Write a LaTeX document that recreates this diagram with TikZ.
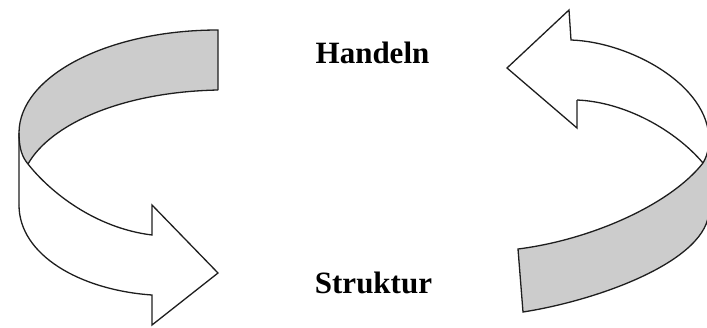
\documentclass[tikz,border=0pt]{standalone}
\usepackage{fontspec}
\setmainfont{Liberation Serif}
\begin{document}
\begin{tikzpicture}[x=1pt,y=-1pt,
  ribbon/.style={draw={rgb,255:red,30;green,30;blue,30},line width=1.3pt,line join=miter},
  shade/.style={fill={rgb,255:red,204;green,204;blue,204}},
  label/.style={font=\bfseries\fontsize{31}{31}\selectfont,anchor=base,inner sep=0pt}]
\useasboundingbox (0,0) rectangle (707,327);
\clip (0,0) rectangle (707,327);
% ---------- left arrow ----------
\fill[shade] (218,30) .. controls (108,30) and (19,76) .. (19,133)
  .. controls (19,150) and (23,158) .. (28,164)
  .. controls (50,125) and (120,92) .. (218,90) -- cycle;
\draw[ribbon] (218,90) -- (218,30) .. controls (108,30) and (19,76) .. (19,133) -- (19,205);
\draw[ribbon] (218,90) .. controls (120,92) and (50,125) .. (28,164);
\draw[ribbon] (19,133) .. controls (19,150) and (23,158) .. (28,164)
  .. controls (50,192) and (95,228) .. (152,235)
  -- (152,205) -- (218,273) -- (152,325) -- (152,295)
  .. controls (80,290) and (19,255) .. (19,205);
% ---------- right arrow ----------
\fill[shade] (709,140) .. controls (709,150) and (706,158) .. (703,163)
  .. controls (670,205) and (590,240) .. (518,249) -- (523,312)
  .. controls (600,300) and (709,260) .. (709,210) -- cycle;
\draw[ribbon] (577,100) -- (577,128) -- (507,68) -- (569,10) -- (571,40)
  .. controls (630,42) and (709,85) .. (709,140) -- (709,210);
\draw[ribbon] (577,100) .. controls (625,102) and (675,130) .. (703,163);
\draw[ribbon] (709,140) .. controls (709,150) and (706,158) .. (703,163)
  .. controls (670,205) and (590,240) .. (518,249) -- (523,312)
  .. controls (600,300) and (709,260) .. (709,210);
% ---------- labels ----------
\node[label] (handeln) at (372.5,63) {Handeln};
\node[label] (struktur) at (373.5,293) {Struktur};
\end{tikzpicture}
\end{document}
